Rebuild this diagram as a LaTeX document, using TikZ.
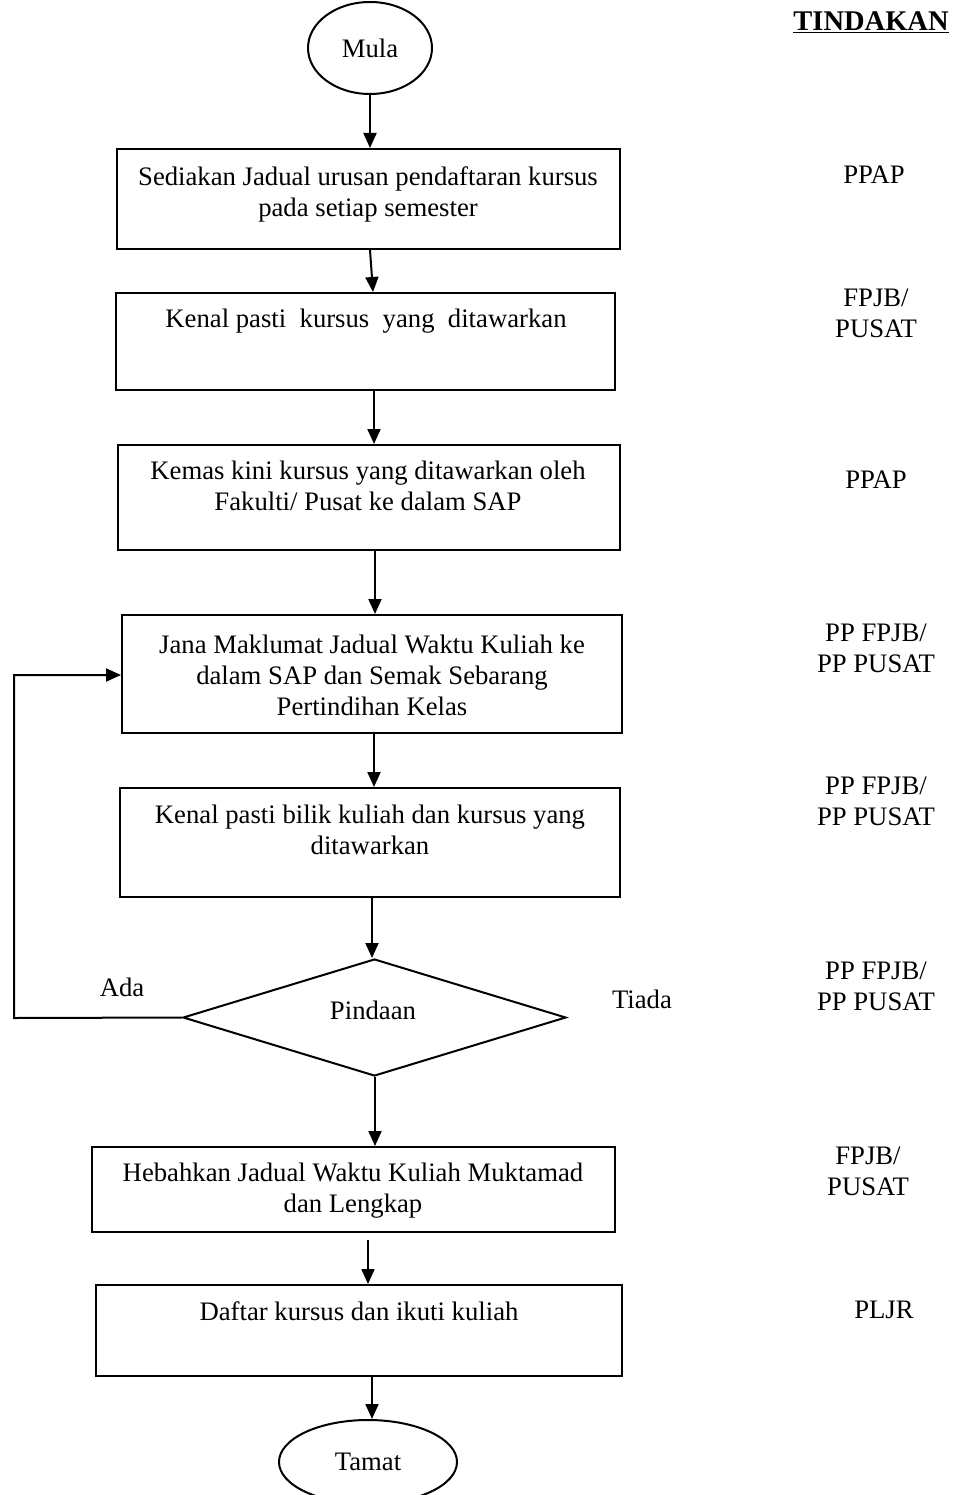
\documentclass[tikz,border=0pt]{standalone}
\usepackage{fontspec}
\setmainfont{Liberation Serif}
\usetikzlibrary{shapes.geometric,arrows.meta}
\tikzset{
  base/.style={font=\fontsize{26.7pt}{31pt}\selectfont},
  box/.style={draw, line width=2pt, rectangle, inner sep=0pt},
  txt/.style={base, align=center, inner sep=0pt},
  term/.style={base, draw, line width=2pt, ellipse, inner sep=0pt},
  arr/.style={line width=2pt, -{Triangle[length=15pt,width=13pt]}},
  lin/.style={line width=2pt}
}
\begin{document}
\begin{tikzpicture}[x=1pt,y=-1pt]
\useasboundingbox (0,0) rectangle (955,1495);
% terminals
\node[term, minimum width=124pt, minimum height=92pt] (mula) at (370,48) {Mula};
\node[term, minimum width=178pt, minimum height=84pt] (tamat) at (368,1462) {Tamat};
% heading
\node[txt, font=\fontsize{28.5pt}{31pt}\selectfont\bfseries] (head) at (871,22) {\underline{TINDAKAN}};
% boxes
\node[box, minimum width=503pt, minimum height=100pt] (b1) at (368.5,199) {};
\node[txt] (t1) at (368,194) {Sediakan Jadual urusan pendaftaran kursus\\pada setiap semester};
\node[box, minimum width=499pt, minimum height=97pt] (b2) at (365.5,341.5) {};
\node[txt] (t2) at (366,321) {Kenal pasti\ \ kursus\ \ yang\ \ ditawarkan};
\node[box, minimum width=502pt, minimum height=105pt] (b3) at (369,497.5) {};
\node[txt] (t3) at (368,486) {Kemas kini kursus yang ditawarkan oleh\\Fakulti/ Pusat ke dalam SAP};
\node[box, minimum width=500pt, minimum height=118pt] (b4) at (372,674) {};
\node[txt] (t4) at (372,675) {Jana Maklumat Jadual Waktu Kuliah ke\\dalam SAP dan Semak Sebarang\\Pertindihan Kelas};
\node[box, minimum width=500pt, minimum height=109pt] (b5) at (370,842.5) {};
\node[txt] (t5) at (370,830) {Kenal pasti bilik kuliah dan kursus yang\\ditawarkan};
\node[draw, line width=2pt, diamond, minimum width=383pt, minimum height=117pt, inner sep=0pt] (diam) at (374.5,1017.5) {};
\node[txt] (t6) at (373,1010) {Pindaan};
\node[box, minimum width=523pt, minimum height=85pt] (b6) at (353.5,1189.5) {};
\node[txt] (t7) at (353,1191) {Hebahkan Jadual Waktu Kuliah Muktamad\\dan Lengkap};
\node[box, minimum width=526pt, minimum height=91pt] (b7) at (359,1330.5) {};
\node[txt] (t8) at (359,1311) {Daftar kursus dan ikuti kuliah};
% branch labels
\node[txt] (ada) at (122,987) {Ada};
\node[txt] (tiada) at (642,999) {Tiada};
% responsibility column
\node[txt] (r1) at (874,175) {PPAP};
\node[txt] (r2) at (876,313) {FPJB/\\PUSAT};
\node[txt] (r3) at (876,480) {PPAP};
\node[txt] (r4) at (876,648) {PP FPJB/\\PP PUSAT};
\node[txt] (r5) at (876,801) {PP FPJB/\\PP PUSAT};
\node[txt] (r6) at (876,986) {PP FPJB/\\PP PUSAT};
\node[txt] (r7) at (868,1171) {FPJB/\\PUSAT};
\node[txt] (r8) at (884,1310) {PLJR};
% free coordinates
\coordinate (lp1) at (14,1018);
\coordinate (lp2) at (14,675);
\coordinate (a6) at (368,1240);
% connectors
\draw[arr] (mula.south -| 370,0) -- (b1.north -| 370,0);
\draw[arr] (b1.south -| 370,0) -- (b2.north -| 373,0);
\draw[arr] (b2.south -| 374,0) -- (b3.north -| 374,0);
\draw[arr] (b3.south -| 375,0) -- (b4.north -| 375,0);
\draw[arr] (b4.south -| 374,0) -- (b5.north -| 374,0);
\draw[arr] (b5.south -| 372,0) -- (diam.north -| 372,0);
\draw[arr] (diam.south -| 375,0) -- (b6.north -| 375,0);
\draw[arr] (a6) -- (a6 |- b7.north);
\draw[arr] (b7.south -| 372,0) -- (tamat.north -| 372,0);
\draw[arr] (diam.west) -- (lp1) -- (lp2) -- (lp2 -| b4.west);
\end{tikzpicture}
\end{document}
